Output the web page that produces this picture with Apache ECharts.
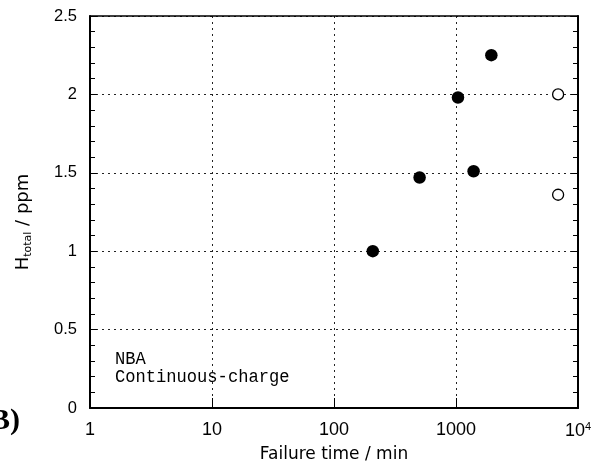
<!DOCTYPE html>
<html>
<head>
<meta charset="utf-8">
<script src="https://cdn.jsdelivr.net/npm/echarts@6/dist/echarts.min.js"></script>
<style>
  html, body { margin: 0; padding: 0; background: #fff; }
  #chart { width: 607px; height: 461px; }
</style>
</head>
<body>
<div id="chart"></div>
<script>
// Failure time (min) and total hydrogen content (ppm)
var failedTime = [208, 503, 1038, 1394, 1948];
var failedH = [1.00, 1.47, 1.98, 1.51, 2.25];
// Specimens that did not fail (open circles)
var runoutTime = [6870, 6870];
var runoutH = [2.00, 1.36];

var xTicks = [1, 10, 100, 1000, 10000];
var xTickText = ['1', '10', '100', '1000', '{b|10}{p|4}'];
var yTicks = [0, 0.5, 1, 1.5, 2, 2.5];
var yTickText = ['0', '0.5', '1', '1.5', '2', '2.5'];

function pairs(xs, ys) {
  return xs.map(function (x, i) { return [x, ys[i]]; });
}

var chart = echarts.init(document.getElementById('chart'), null, { renderer: 'canvas' });

var gridLine = { show: true, lineStyle: { color: '#222', width: 1, type: [2, 4] } };

chart.setOption({
  animation: false,
  backgroundColor: '#fff',
  grid: { left: 90, right: 29, top: 16, bottom: 53, containLabel: false, outerBoundsMode: 'none' },
  xAxis: [{
    type: 'log',
    logBase: 10,
    min: 1,
    max: 10000,
    position: 'bottom',
    axisLine: { show: true, onZero: false, lineStyle: { color: '#000', width: 2.2 } },
    axisTick: { show: true, inside: true, length: 10, lineStyle: { color: '#000', width: 1 } },
    minorTick: { show: false },
    axisLabel: {
      margin: 13,
      color: '#000',
      fontFamily: 'Liberation Sans',
      fontSize: 18,
      formatter: function (v) {
        var i = xTicks.indexOf(Math.round(v));
        return i >= 0 ? xTickText[i] : '';
      },
      rich: {
        b: { fontFamily: 'Liberation Sans', fontSize: 18, color: '#000' },
        p: { fontFamily: 'Liberation Sans', fontSize: 11, color: '#000', verticalAlign: 'top', padding: [0, 0, 10, 0] }
      }
    },
    splitLine: gridLine,
    name: 'Failure time / min',
    nameLocation: 'middle',
    nameGap: 38,
    nameTextStyle: { color: '#000', fontFamily: 'DejaVu Sans', fontSize: 17 }
  }, {
    type: 'log',
    logBase: 10,
    min: 1,
    max: 10000,
    position: 'top',
    axisLine: { show: true, onZero: false, lineStyle: { color: '#000', width: 1.6 } },
    axisTick: { show: false },
    axisLabel: { show: false },
    splitLine: { show: false }
  }],
  yAxis: [{
    type: 'value',
    min: 0,
    max: 2.5,
    interval: 0.5,
    position: 'left',
    axisLine: { show: true, onZero: false, lineStyle: { color: '#000', width: 2 } },
    axisTick: { show: true, inside: true, length: 7, lineStyle: { color: '#000', width: 1 } },
    minorTick: { show: true, splitNumber: 5, length: 5, lineStyle: { color: '#000', width: 1 } },
    axisLabel: {
      margin: 13,
      color: '#000',
      fontFamily: 'Liberation Sans',
      fontSize: 16.5,
      formatter: function (v) {
        var i = yTicks.indexOf(Math.round(v * 10) / 10);
        return i >= 0 ? yTickText[i] : '';
      }
    },
    splitLine: gridLine,
    name: '{h|H}{s|total}{n| / ppm}',
    nameLocation: 'middle',
    nameGap: 56,
    nameRotate: 90,
    nameTextStyle: {
      color: '#000',
      padding: [0, 20, 0, 0],
      rich: {
        h: { fontFamily: 'DejaVu Sans', fontSize: 18, color: '#000', lineHeight: 22 },
        s: { fontFamily: 'DejaVu Sans', fontSize: 11, color: '#000', lineHeight: 11, verticalAlign: 'bottom' },
        n: { fontFamily: 'DejaVu Sans', fontSize: 18, color: '#000', lineHeight: 22 }
      }
    }
  }, {
    type: 'value',
    min: 0,
    max: 2.5,
    interval: 0.5,
    position: 'right',
    axisLine: { show: true, onZero: false, lineStyle: { color: '#000', width: 2 } },
    axisTick: { show: true, inside: true, length: 7, lineStyle: { color: '#000', width: 1 } },
    minorTick: { show: true, splitNumber: 5, length: 5, lineStyle: { color: '#000', width: 1 } },
    axisLabel: { show: false },
    splitLine: { show: false }
  }],
  series: [{
    name: 'failed',
    type: 'scatter',
    xAxisIndex: 0,
    yAxisIndex: 0,
    symbol: 'circle',
    symbolSize: 12.5,
    itemStyle: { color: '#000', opacity: 1 },
    data: pairs(failedTime, failedH),
    z: 5
  }, {
    name: 'not failed',
    type: 'scatter',
    xAxisIndex: 0,
    yAxisIndex: 0,
    symbol: 'circle',
    symbolSize: 11,
    itemStyle: { color: '#fff', borderColor: '#000', borderWidth: 1.3, opacity: 1 },
    data: pairs(runoutTime, runoutH),
    z: 5
  }],
  graphic: [{
    type: 'text',
    left: 115,
    top: 349,
    scaleX: 0.9,
    style: {
      text: 'NBA\nContinuous-charge',
      fill: '#000',
      font: '19px "Liberation Mono"',
      lineHeight: 18
    },
    z: 10
  }, {
    type: 'text',
    left: -10,
    top: 406,
    style: {
      text: 'B)',
      fill: '#000',
      font: 'bold 30px "Liberation Serif"'
    },
    z: 10
  }]
});
</script>
</body>
</html>
